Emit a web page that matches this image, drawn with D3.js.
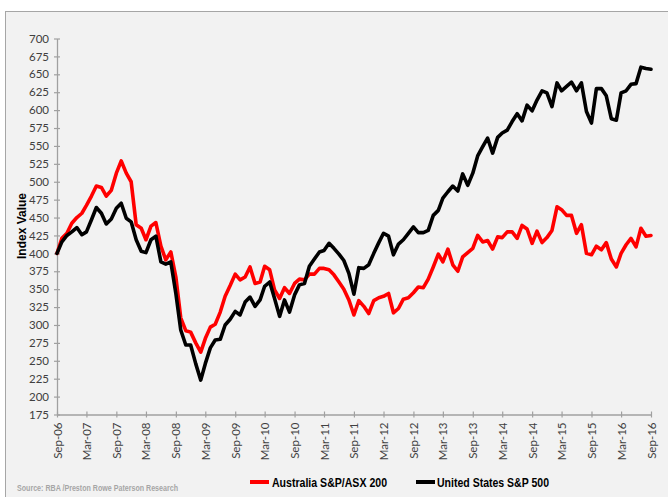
<!DOCTYPE html>
<html><head><meta charset="utf-8">
<script src="https://cdn.jsdelivr.net/npm/d3@7"></script>
<style>
html,body{margin:0;padding:0;background:#fff;}
svg{display:block;}
</style></head>
<body>
<script>
// Monthly series, Sep-2006 .. Sep-2016 (index, Sep-06 = 400)
const startMonth = "2006-09";
const asx200 = [400,421,428,442,450,456,467,480,494,492,480,488,512,529,512,500,440,435,419,438,
  443,410,391,402,367,310,292,290,275,262,281,297,301,318,340,355,371,363,367,381,
  358,360,382,377,349,337,352,344,358,364,363,371,371,379,379,377,370,360,350,335,
  314,334,326,316,334,338,340,344,317,323,336,338,345,353,352,364,381,399,388,406,
  384,375,395,401,407,425,416,418,406,423,422,430,430,421,439,434,414,431,415,422,
  432,465,461,453,453,428,440,400,398,410,405,415,392,381,400,412,421,409,435,424,425];
const sp500 = [400,416,425,430,436,426,430,447,464,456,441,448,463,470,449,444,419,403,401,419,
  424,388,385,388,344,293,272,272,246,223,246,268,279,280,300,308,319,314,332,339,
  326,335,354,360,337,312,335,318,342,356,358,382,392,402,404,414,407,399,390,372,
  343,380,379,384,400,415,428,424,398,413,419,428,437,429,429,432,453,460,477,486,
  494,487,511,495,512,536,549,561,540,562,568,572,584,595,585,607,599,614,627,624,
  605,638,627,633,639,627,638,598,582,630,630,620,588,586,624,627,636,637,660,658,657];
const yTicks = [175,200,225,250,275,300,325,350,375,400,425,450,475,500,525,550,575,600,625,650,675,700];
const xTickLabels = ["Sep-06","Mar-07","Sep-07","Mar-08","Sep-08","Mar-09","Sep-09","Mar-10","Sep-10","Mar-11","Sep-11",
  "Mar-12","Sep-12","Mar-13","Sep-13","Mar-14","Sep-14","Mar-15","Sep-15","Mar-16","Sep-16"];
const seriesNames = ["Australia S&P/ASX 200","United States S&P 500"];
const seriesColors = ["#ff0000","#000000"];

const W = 668, H = 497;
const svg = d3.select("body").append("svg").attr("width", W).attr("height", H);

svg.append("rect").attr("x",5.5).attr("y",11.5).attr("width",W).attr("height",H)
  .attr("fill","#f2f2f2").attr("stroke","#a6a6a6").attr("stroke-width",1);

const parse = d3.timeParse("%Y-%m");
const t0 = parse(startMonth);
const dates = asx200.map((_, i) => d3.timeMonth.offset(t0, i));
const fmt = d3.timeFormat("%b-%y");

const x = d3.scaleTime().domain([dates[0], dates[dates.length-1]]).range([57, 651]);
const y = d3.scaleLinear().domain([175, 700]).range([414.5, 38.5]);

const axisColor = "#a0a0a0";
const labelFont = "Lato, 'Open Sans', sans-serif";

// Y axis
const yAxis = d3.axisLeft(y).tickValues(yTicks).tickSize(0).tickPadding(8);
const gy = svg.append("g").attr("transform","translate(57,0)").call(yAxis);
gy.select(".domain").attr("stroke", axisColor).attr("stroke-width",1.3);
gy.selectAll(".tick line").remove();
gy.selectAll(".tick").append("line").attr("x1",-3).attr("x2",3).attr("stroke",axisColor).attr("stroke-width",1.2);
gy.selectAll(".tick text").attr("fill","#404040").style("font-family",labelFont).style("font-size","11.5px");

// X axis
const xTickDates = xTickLabels.map(s => d3.timeParse("%b-%y")(s));
const xAxis = d3.axisBottom(x).tickValues(xTickDates).tickFormat(fmt).tickSize(0);
const gx = svg.append("g").attr("transform","translate(0,414.5)").call(xAxis);
gx.select(".domain").attr("stroke", axisColor).attr("stroke-width",1.3);
gx.selectAll(".tick line").remove();
gx.selectAll(".tick").append("line").attr("y1",-3).attr("y2",3).attr("stroke",axisColor).attr("stroke-width",1.2);
gx.selectAll(".tick text")
  .attr("fill","#404040").style("font-family",labelFont).style("font-size","11.5px")
  .attr("text-anchor","end").attr("transform","rotate(-90)")
  .attr("x",-8).attr("y",0).attr("dy","0.35em");

// Y axis title
svg.append("text").attr("transform","translate(26,226) rotate(-90)")
  .attr("text-anchor","middle").attr("fill","#000")
  .style("font-family","'Liberation Sans', Arial, sans-serif").style("font-weight","bold").style("font-size","12px")
  .text("Index Value");

// Lines
const line = d3.line().x((d,i) => x(dates[i])).y(d => y(d));
[asx200, sp500].forEach((s, k) => {
  svg.append("path").datum(s).attr("d", line).attr("fill","none")
    .attr("stroke", seriesColors[k]).attr("stroke-width",3.6)
    .attr("stroke-linejoin","round").attr("stroke-linecap","round");
});

// Legend
const legendPos = [{lx:250, tx:272, w:115},{lx:416, tx:437, w:112}];
seriesNames.forEach((n,k) => {
  svg.append("line").attr("x1",legendPos[k].lx).attr("x2",legendPos[k].lx+19)
    .attr("y1",482).attr("y2",482).attr("stroke",seriesColors[k]).attr("stroke-width",4);
  svg.append("text").attr("x",legendPos[k].tx).attr("y",486.5).attr("fill","#000")
    .style("font-family","'Liberation Sans', Arial, sans-serif")
    .style("font-weight","bold").style("font-size","12.5px")
    .attr("textLength",legendPos[k].w).attr("lengthAdjust","spacingAndGlyphs").text(n);
});

// Source
svg.append("text").attr("x",17).attr("y",491).attr("fill","#a6a6a6")
  .style("font-family","'Liberation Sans', Arial, sans-serif")
  .style("font-weight","bold").style("font-size","9px")
  .attr("textLength",161).attr("lengthAdjust","spacingAndGlyphs")
  .text("Source: RBA /Preston Rowe Paterson Research");
</script>
</body></html>
